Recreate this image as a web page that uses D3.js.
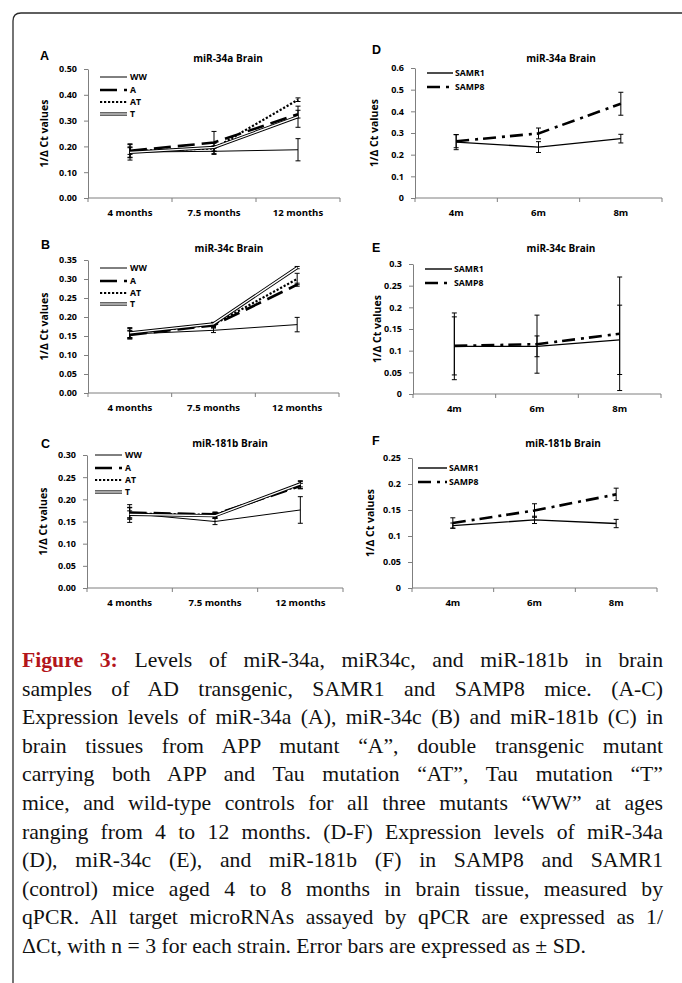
<!DOCTYPE html>
<html>
<head>
<meta charset="utf-8">
<script src="https://cdn.jsdelivr.net/npm/d3@7"></script>
<style>
  body { margin: 0; background: #fff; }
  svg { display: block; }
  .tick text { font-family: "Open Sans", sans-serif; font-weight: 700; font-size: 9px; fill: #000; }
  .eje-x .tick text { font-size: 9.6px; }
  .domain { stroke: #7f7f7f; }
  .tick line { stroke: #7f7f7f; }
</style>
</head>
<body>
<svg id="fig" width="682" height="983"></svg>
<script>
/*--- datos ---*/
let adMonths  = ["4 months", "7.5 months", "12 months"];
let samMonths = ["4m", "6m", "8m"];
let adGroups  = ["WW", "A", "AT", "T"];
let samGroups = ["SAMR1", "SAMP8"];

// A: miR-34a, ratones transgenicos (WW, A, AT, T)
let mir34aAD   = [[0.178, 0.181, 0.187], [0.183, 0.215, 0.325], [0.182, 0.192, 0.381], [0.177, 0.196, 0.315]];
let mir34aADsd = [[0.020, 0.012, 0.043], [0.027, 0.043, 0.015], [0.013, 0.010, 0.007], [0.030, 0.016, 0.041]];
// B: miR-34c
let mir34cAD   = [[0.155, 0.165, 0.180], [0.153, 0.178, 0.285], [0.157, 0.180, 0.300], [0.158, 0.182, 0.330]];
let mir34cADsd = [[0.010, 0.006, 0.019], [0.010, 0.006, 0.004], [0.015, 0.005, 0.015], [0.012, 0.004, 0.003]];
// C: miR-181b
let mir181bAD   = [[0.168, 0.150, 0.176], [0.170, 0.166, 0.230], [0.168, 0.165, 0.232], [0.166, 0.163, 0.235]];
let mir181bADsd = [[0.020, 0.007, 0.030], [0.012, 0.005, 0.006], [0.013, 0.006, 0.008], [0.008, 0.006, 0.007]];

// D-F: SAMR1 / SAMP8
let mir34aSAM    = [[0.258, 0.235, 0.274], [0.262, 0.298, 0.435]];
let mir34aSAMsd  = [[0.035, 0.025, 0.020], [0.030, 0.025, 0.053]];
let mir34cSAM    = [[0.110, 0.110, 0.125], [0.111, 0.115, 0.139]];
let mir34cSAMsd  = [[0.077, 0.024, 0.080], [0.067, 0.067, 0.131]];
let mir181bSAM   = [[0.120, 0.131, 0.124], [0.125, 0.149, 0.180]];
let mir181bSAMsd = [[0.005, 0.007, 0.008], [0.010, 0.013, 0.012]];

let ticksA = [0, 0.1, 0.2, 0.3, 0.4, 0.5];
let ticksB = [0, 0.05, 0.1, 0.15, 0.2, 0.25, 0.3, 0.35];
let ticksC = [0, 0.05, 0.1, 0.15, 0.2, 0.25, 0.3];
let ticksD = [0, 0.1, 0.2, 0.3, 0.4, 0.5, 0.6];
let ticksE = [0, 0.05, 0.1, 0.15, 0.2, 0.25, 0.3];
let ticksF = [0, 0.05, 0.1, 0.15, 0.2, 0.25];

let captionLines = [
    ["Figure 3:", " Levels of miR-34a, miR34c, and miR-181b in brain"],
    ["", "samples of AD transgenic, SAMR1 and SAMP8 mice. (A-C)"],
    ["", "Expression levels of miR-34a (A), miR-34c (B) and miR-181b (C) in"],
    ["", "brain tissues from APP mutant \u201cA\u201d, double transgenic mutant"],
    ["", "carrying both APP and Tau mutation \u201cAT\u201d, Tau mutation \u201cT\u201d"],
    ["", "mice, and wild-type controls for all three mutants \u201cWW\u201d at ages"],
    ["", "ranging from 4 to 12 months. (D-F) Expression levels of miR-34a"],
    ["", "(D), miR-34c (E), and miR-181b (F) in SAMP8 and SAMR1"],
    ["", "(control) mice aged 4 to 8 months in brain tissue, measured by"],
    ["", "qPCR. All target microRNAs assayed by qPCR are expressed as 1/"],
    ["", "\u0394Ct, with n = 3 for each strain. Error bars are expressed as \u00b1 SD."]
];

/*--- estilos de linea ---*/
let estilo = {
    WW:    { w: 1,   dash: null },
    A:     { w: 2.6, dash: "17,7" },
    AT:    { w: 2.2, dash: "2.2,1.8" },
    T:     { w: 3.2, dash: null, doble: true },
    SAMR1: { w: 1.4, dash: null },
    SAMP8: { w: 2.6, dash: "13,6,3,5" }
};

let fmtL = d3.format(".2f");
let fmtR = d => String(+d.toFixed(2));

let paneles = [
    { id: "A", title: "miR-34a Brain",  cats: adMonths,  groups: adGroups,  mean: mir34aAD,   sd: mir34aADsd,   ticks: ticksA, fmt: fmtL,
      x0: 88,  x1: 340, top: 69,  bottom: 198, letra: [40, 60],   tit: [228, 62],  leg: [100, 127, 130, [77, 90, 102, 114]], ylab: 48 },
    { id: "B", title: "miR-34c Brain",  cats: adMonths,  groups: adGroups,  mean: mir34cAD,   sd: mir34cADsd,   ticks: ticksB, fmt: fmtL,
      x0: 88,  x1: 339, top: 260, bottom: 393, letra: [41, 249],  tit: [229, 252], leg: [100, 127, 130, [268, 281, 293, 304]], ylab: 48 },
    { id: "C", title: "miR-181b Brain", cats: adMonths,  groups: adGroups,  mean: mir181bAD,  sd: mir181bADsd,  ticks: ticksC, fmt: fmtL,
      x0: 87,  x1: 343, top: 455, bottom: 588, letra: [41, 448],  tit: [230, 447], leg: [95, 122, 125, [455, 468, 480, 492]], ylab: 47 },
    { id: "D", title: "miR-34a Brain",  cats: samMonths, groups: samGroups, mean: mir34aSAM,  sd: mir34aSAMsd,  ticks: ticksD, fmt: fmtR,
      x0: 415, x1: 662, top: 68,  bottom: 198, letra: [372, 54],  tit: [561, 62],  leg: [427, 453, 455, [73, 87]], ylab: 378 },
    { id: "E", title: "miR-34c Brain",  cats: samMonths, groups: samGroups, mean: mir34cSAM,  sd: mir34cSAMsd,  ticks: ticksE, fmt: fmtR,
      x0: 413, x1: 661, top: 264, bottom: 394, letra: [372, 252], tit: [561, 252], leg: [425, 452, 454, [269, 283]], ylab: 381 },
    { id: "F", title: "miR-181b Brain", cats: samMonths, groups: samGroups, mean: mir181bSAM, sd: mir181bSAMsd, ticks: ticksF, fmt: fmtR,
      x0: 412, x1: 657, top: 458, bottom: 588, letra: [372, 445], tit: [563, 447], leg: [418, 447, 449, [468, 482]], ylab: 374 }
];

let svg = d3.select("#fig");

// marco con esquina redondeada
svg.append("path")
    .attr("d", "M 690 13 H 21 Q 13 13 13 21 V 990")
    .attr("fill", "none")
    .attr("stroke", "#2b2b2b")
    .attr("stroke-width", 1.3);

function trazo(sel, g) {
    let e = estilo[g];
    sel.attr("fill", "none")
        .attr("stroke", "#000")
        .attr("stroke-width", e.w)
        .attr("stroke-dasharray", e.dash);
}

function dibujaLinea(g, gr, d) {
    g.append("path").attr("d", d).call(trazo, gr);
    if (estilo[gr].doble) {
        g.append("path").attr("d", d)
            .attr("fill", "none").attr("stroke", "#fff").attr("stroke-width", 1.3);
    }
}

paneles.forEach(function (p) {
    let g = svg.append("g").attr("class", "panel-" + p.id);

    let x = d3.scaleBand().domain(p.cats).range([p.x0, p.x1]);
    let y = d3.scaleLinear().domain([0, d3.max(p.ticks)]).range([p.bottom, p.top]);
    let cx = c => x(c) + x.bandwidth() / 2;

    // ejes
    g.append("g")
        .attr("transform", "translate(" + p.x0 + ",0)")
        .call(d3.axisLeft(y).tickValues(p.ticks).tickFormat(p.fmt).tickSize(4).tickSizeOuter(0).tickPadding(7));

    let ax = g.append("g")
        .attr("class", "eje-x")
        .attr("transform", "translate(0," + p.bottom + ")")
        .call(d3.axisBottom(x).tickSize(0).tickSizeOuter(0).tickPadding(11));
    ax.select(".domain").remove();
    ax.append("line").attr("x1", p.x0).attr("x2", p.x1).attr("stroke", "#7f7f7f");

    // marcas entre categorias
    g.selectAll("line.sep")
        .data(d3.range(p.cats.length + 1))
        .enter().append("line")
        .attr("class", "sep")
        .attr("x1", i => p.x0 + i * x.step())
        .attr("x2", i => p.x0 + i * x.step())
        .attr("y1", p.bottom)
        .attr("y2", p.bottom + 4)
        .attr("stroke", "#7f7f7f");

    // barras de error
    p.groups.forEach(function (gr, k) {
        p.mean[k].forEach(function (m, i) {
            let s = p.sd[k][i];
            let xx = cx(p.cats[i]);
            g.append("line").attr("x1", xx).attr("x2", xx)
                .attr("y1", y(m - s)).attr("y2", y(m + s))
                .attr("stroke", "#000").attr("stroke-width", 1);
            [m - s, m + s].forEach(function (v) {
                g.append("line").attr("x1", xx - 2.5).attr("x2", xx + 2.5)
                    .attr("y1", y(v)).attr("y2", y(v))
                    .attr("stroke", "#000").attr("stroke-width", 1);
            });
        });
    });

    // series
    let linea = d3.line().x((d, i) => cx(p.cats[i])).y(d => y(d));
    p.groups.forEach(function (gr, k) {
        dibujaLinea(g, gr, linea(p.mean[k]));
    });

    // leyenda
    p.groups.forEach(function (gr, k) {
        let yy = p.leg[3][k];
        dibujaLinea(g, gr, "M" + p.leg[0] + "," + yy + "H" + p.leg[1]);
        g.append("text")
            .attr("x", p.leg[2]).attr("y", yy + 3)
            .style("font-family", "Open Sans, sans-serif")
            .style("font-weight", 700)
            .style("font-size", "8.7px")
            .text(gr);
    });

    // titulos
    g.append("text")
        .attr("x", p.tit[0]).attr("y", p.tit[1])
        .attr("text-anchor", "middle")
        .style("font-family", "Open Sans, sans-serif")
        .style("font-weight", 700)
        .style("font-size", "10px")
        .text(p.title);

    g.append("text")
        .attr("x", p.letra[0]).attr("y", p.letra[1])
        .style("font-family", "Liberation Sans, Arial, sans-serif")
        .style("font-weight", 700)
        .style("font-size", "12.5px")
        .text(p.id);

    g.append("text")
        .attr("transform", "translate(" + p.ylab + "," + ((p.top + p.bottom) / 2) + ") rotate(-90)")
        .attr("text-anchor", "middle")
        .style("font-family", "Open Sans, sans-serif")
        .style("font-weight", 700)
        .style("font-size", "10.5px")
        .text("1/\u0394 Ct values");
});

/*--- pie de figura, justificado ---*/
let capX = 22, capW = 641, capY = 667, capStep = 28.6;

captionLines.forEach(function (ln, i) {
    let t = svg.append("text")
        .attr("x", capX)
        .attr("y", capY + i * capStep)
        .style("font-family", "Liberation Serif, Times New Roman, serif")
        .style("font-size", "21.7px")
        .attr("fill", "#111");
    if (ln[0]) {
        t.append("tspan").attr("font-weight", 700).attr("fill", "#b3151b").text(ln[0]);
    }
    t.append("tspan").text(ln[1]);

    if (i < captionLines.length - 1) {
        let ancho = t.node().getComputedTextLength();
        let espacios = (ln[0] + ln[1]).split(" ").length - 1;
        t.attr("word-spacing", (capW - ancho) / espacios);
    }
});
</script>
</body>
</html>
